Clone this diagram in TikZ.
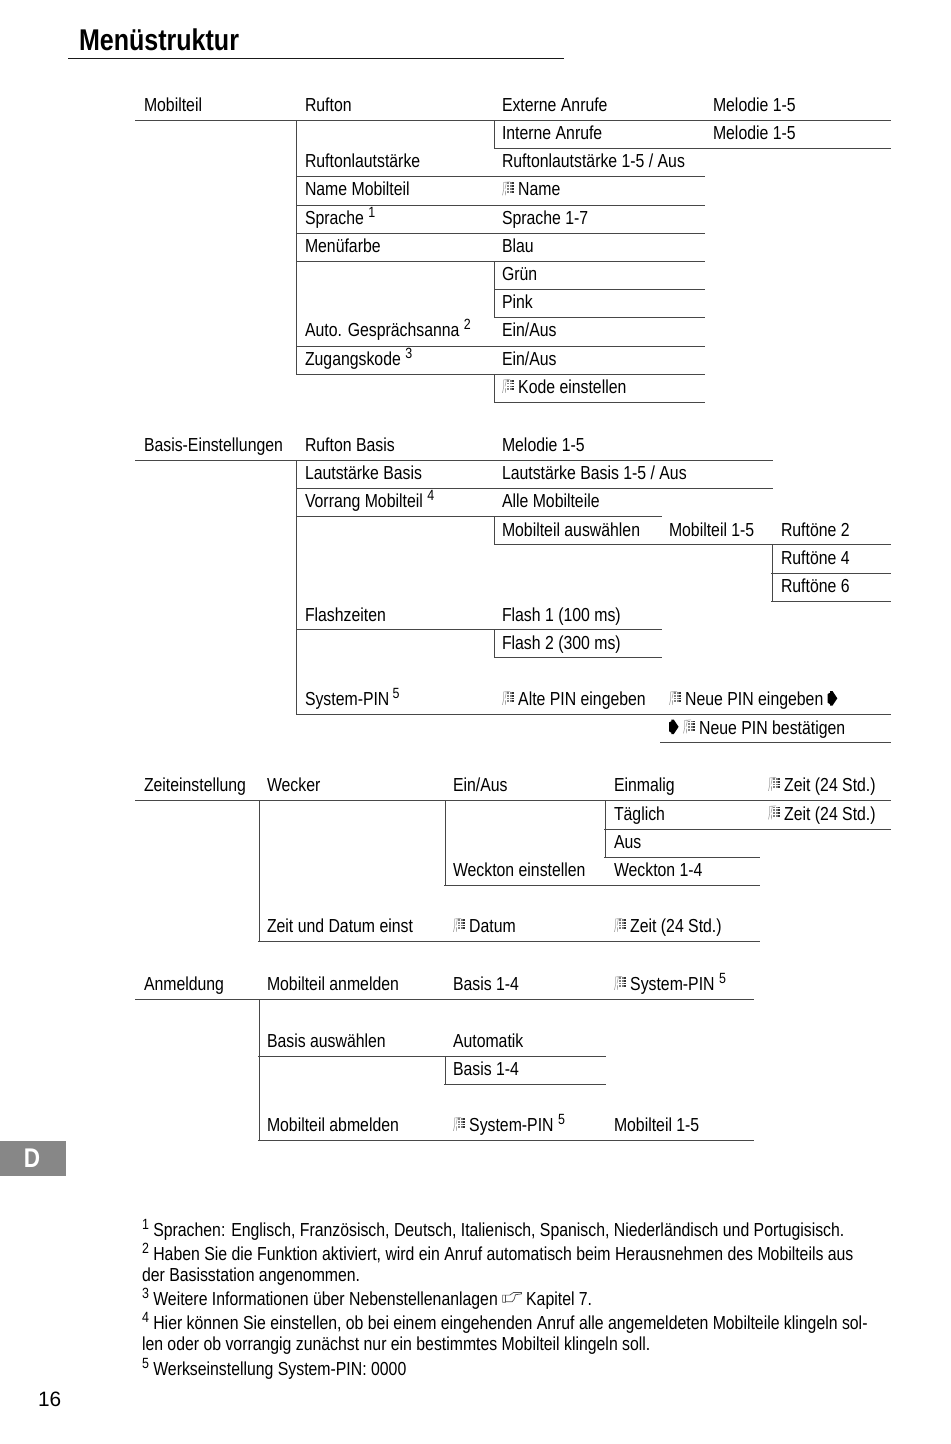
\documentclass[tikz,border=0pt]{standalone}
\usepackage{fontspec}
\setmainfont[FakeStretch=0.84]{Liberation Sans}
\newfontfamily\plainf{Liberation Sans}
\newfontfamily\titlef[FakeStretch=0.835]{Liberation Sans}
\newcounter{labn}
\tikzset{
  lab/.style={anchor=base west,inner sep=0pt,outer sep=0pt,font=\fontsize{9.42}{10}\selectfont,text=black},
  rulex/.style={line width=0.6pt,draw=black!72,line cap=rect},
  titlerule/.style={line width=0.8pt,draw=black!90},
}
\newcommand\lab[3]{\stepcounter{labn}\node[lab] (n\thelabn) at (#1,#2) {#3};}
\newcommand\sups[1]{\raisebox{3.3pt}{\fontsize{7.4}{7.4}\selectfont #1}}
\newcommand\kp{\tikz[baseline=-0.3pt,x=1pt,y=1pt,line width=0.3pt]{
  \draw[black!35] (0.2,0) -- (0.8,2.6) -- (0.8,6.5) -- (4,6.8) (1.8,0) -- (1.7,2.4) (2.2,6.6) -- (1.5,3.2);
  \foreach \u in {2.6,3.9,5.2} \foreach \v in {1.4,2.8,4.2,5.6}
    {\fill[black!\ifdim\u pt>4pt 80\else 50\fi] (\u,\v) rectangle ++(0.9,0.85);}
  \path (0,0) (6.4,0);
  }\hspace{1.7pt}}
\newcommand\arr{\tikz[baseline=-0.2pt,x=1pt,y=1pt]{
  \fill[black] (0,1.2) -- (1.2,0.4) -- (1.2,-0.2) -- (2.4,-0.2) -- (4.8,3.4) -- (2.4,7) -- (1.2,7) -- (1.2,6.2) -- (0,5.6) -- cycle;}}
\newcommand\hand{\tikz[baseline=-1.6pt,x=1pt,y=1pt,line width=0.35pt]{
  \draw[black!70] (0,0) -- (0,3.6) -- (1.4,3.6) -- (1.4,0) -- cycle
    (1.4,3.6) -- (3.6,3.6) -- (5.4,4.9) -- (9.4,4.9) -- (9.4,4.2) -- (6.4,3.8) -- (5.8,1.6) -- (4.8,0.3) -- (1.4,0.3);}}
\begin{document}
\begin{tikzpicture}[x=0.5pt,y=-0.5pt]
\useasboundingbox (0,0) rectangle (950,1444);
\fill[white] (0,0) rectangle (950,1444);
% title
\node[lab,font=\titlef\bfseries\fontsize{15}{16}\selectfont] (title) at (79,51) {Menüstruktur};
\draw[titlerule] (68,58.5) -- (564,58.5);
% group 1
\lab{144}{111.5}{Mobilteil}
\lab{305}{111.5}{Rufton}
\lab{502}{111.5}{Externe Anrufe}
\lab{713}{111.5}{Melodie 1-5}
\lab{502}{140}{Interne Anrufe}
\lab{713}{140}{Melodie 1-5}
\lab{305}{168}{Ruftonlautstärke}
\lab{502}{168}{Ruftonlautstärke 1-5 / Aus}
\lab{305}{196}{Name Mobilteil}
\lab{502}{196}{\kp Name}
\lab{305}{224.5}{Sprache \sups{1}}
\lab{502}{224.5}{Sprache 1-7}
\lab{305}{252.5}{Menüfarbe}
\lab{502}{252.5}{Blau}
\lab{502}{280.5}{Grün}
\lab{502}{309}{Pink}
\lab{305}{336.5}{Auto. Gesprächsanna \sups{2}}
\lab{502}{336.5}{Ein/Aus}
\lab{305}{365}{Zugangskode \sups{3}}
\lab{502}{365}{Ein/Aus}
\lab{502}{393.5}{\kp Kode einstellen}
\draw[rulex] (136,120.5) -- (890,120.5);
\draw[rulex] (495,148.5) -- (890,148.5);
\foreach \yy in {176.5,205.5,233.5,261.5,346.5,374.5} \draw[rulex] (297,\yy) -- (704,\yy);
\foreach \yy in {289.5,317.5,402.5} \draw[rulex] (495,\yy) -- (704,\yy);
\draw[rulex] (296.5,120.5) -- (296.5,374.5);
\draw[rulex] (494.5,120.5) -- (494.5,148.5);
\draw[rulex] (494.5,261.5) -- (494.5,317.5);
\draw[rulex] (494.5,374.5) -- (494.5,402.5);
% group 2
\lab{144}{451.5}{Basis-Einstellungen}
\lab{305}{451.5}{Rufton Basis}
\lab{502}{451.5}{Melodie 1-5}
\lab{305}{479.5}{Lautstärke Basis}
\lab{502}{479.5}{Lautstärke Basis 1-5 / Aus}
\lab{305}{507.5}{Vorrang Mobilteil \sups{4}}
\lab{502}{507.5}{Alle Mobilteile}
\lab{502}{536}{Mobilteil auswählen}
\lab{669}{536}{Mobilteil 1-5}
\lab{781}{536}{Ruftöne 2}
\lab{781}{564}{Ruftöne 4}
\lab{781}{592.5}{Ruftöne 6}
\lab{305}{621}{Flashzeiten}
\lab{502}{621}{Flash 1 (100 ms)}
\lab{502}{649}{Flash 2 (300 ms)}
\lab{305}{705.5}{System-PIN\,\sups{5}}
\lab{502}{705.5}{\kp Alte PIN eingeben}
\lab{669}{705.5}{\kp Neue PIN eingeben \arr}
\lab{669}{734}{\arr\ \kp Neue PIN bestätigen}
\draw[rulex] (136,460.5) -- (772,460.5);
\draw[rulex] (297,488.5) -- (772,488.5);
\draw[rulex] (297,516.5) -- (661,516.5);
\draw[rulex] (495,544.5) -- (890,544.5);
\draw[rulex] (772,573.5) -- (890,573.5);
\draw[rulex] (772,601.5) -- (890,601.5);
\draw[rulex] (297,629.5) -- (661,629.5);
\draw[rulex] (495,657.5) -- (661,657.5);
\draw[rulex] (297,714.5) -- (890,714.5);
\draw[rulex] (661,742.5) -- (890,742.5);
\draw[rulex] (296.5,460.5) -- (296.5,714.5);
\draw[rulex] (494.5,516.5) -- (494.5,544.5);
\draw[rulex] (772.5,544.5) -- (772.5,601.5);
\draw[rulex] (494.5,629.5) -- (494.5,657.5);
% group 3
\lab{144}{791.5}{Zeiteinstellung}
\lab{267}{791.5}{Wecker}
\lab{453}{791.5}{Ein/Aus}
\lab{614}{791.5}{Einmalig}
\lab{768}{791.5}{\kp Zeit (24 Std.)}
\lab{614}{820}{Täglich}
\lab{768}{820}{\kp Zeit (24 Std.)}
\lab{614}{848}{Aus}
\lab{453}{876.5}{Weckton einstellen}
\lab{614}{876.5}{Weckton 1-4}
\lab{267}{932.5}{Zeit und Datum einst}
\lab{453}{932.5}{\kp Datum}
\lab{614}{932.5}{\kp Zeit (24 Std.)}
\draw[rulex] (136,800.5) -- (890,800.5);
\draw[rulex] (605,829.5) -- (890,829.5);
\draw[rulex] (605,857.5) -- (759,857.5);
\draw[rulex] (445,885.5) -- (759,885.5);
\draw[rulex] (259,941.5) -- (759,941.5);
\draw[rulex] (259.5,800.5) -- (259.5,941.5);
\draw[rulex] (445.5,800.5) -- (445.5,885.5);
\draw[rulex] (605.5,800.5) -- (605.5,857.5);
% group 4
\lab{144}{990.5}{Anmeldung}
\lab{267}{990.5}{Mobilteil anmelden}
\lab{453}{990.5}{Basis 1-4}
\lab{614}{990.5}{\kp System-PIN \sups{5}}
\lab{267}{1047}{Basis auswählen}
\lab{453}{1047}{Automatik}
\lab{453}{1075}{Basis 1-4}
\lab{267}{1131.5}{Mobilteil abmelden}
\lab{453}{1131.5}{\kp System-PIN \sups{5}}
\lab{614}{1131.5}{Mobilteil 1-5}
\draw[rulex] (136,999.5) -- (753,999.5);
\draw[rulex] (259,1056.5) -- (605,1056.5);
\draw[rulex] (445,1084.5) -- (605,1084.5);
\draw[rulex] (259,1140.5) -- (753,1140.5);
\draw[rulex] (259.5,999.5) -- (259.5,1140.5);
\draw[rulex] (445.5,1056.5) -- (445.5,1084.5);
% tab
\fill[black!47] (0,1141) rectangle (66,1176);
\node[lab,font=\titlef\bfseries\fontsize{13.5}{14}\selectfont,text=white,anchor=base] (tab) at (32,1167.5) {D};
% footnotes
\lab{142}{1236.5}{\sups{1} Sprachen: Englisch, Französisch, Deutsch, Italienisch, Spanisch, Niederländisch und Portugisisch.}
\lab{142}{1260.5}{\sups{2} Haben Sie die Funktion aktiviert, wird ein Anruf automatisch beim Herausnehmen des Mobilteils aus}
\lab{142}{1281.5}{der Basisstation angenommen.}
\lab{142}{1305.5}{\sups{3} Weitere Informationen über Nebenstellenanlagen \hand\ Kapitel 7.}
\lab{142}{1329.5}{\sups{4} Hier können Sie einstellen, ob bei einem eingehenden Anruf alle angemeldeten Mobilteile klingeln sol-}
\lab{142}{1350.5}{len oder ob vorrangig zunächst nur ein bestimmtes Mobilteil klingeln soll.}
\lab{142}{1375.5}{\sups{5} Werkseinstellung System-PIN: 0000}
\node[lab,font=\plainf\fontsize{10.4}{11}\selectfont] (page) at (38,1406) {16};
\end{tikzpicture}
\end{document}
